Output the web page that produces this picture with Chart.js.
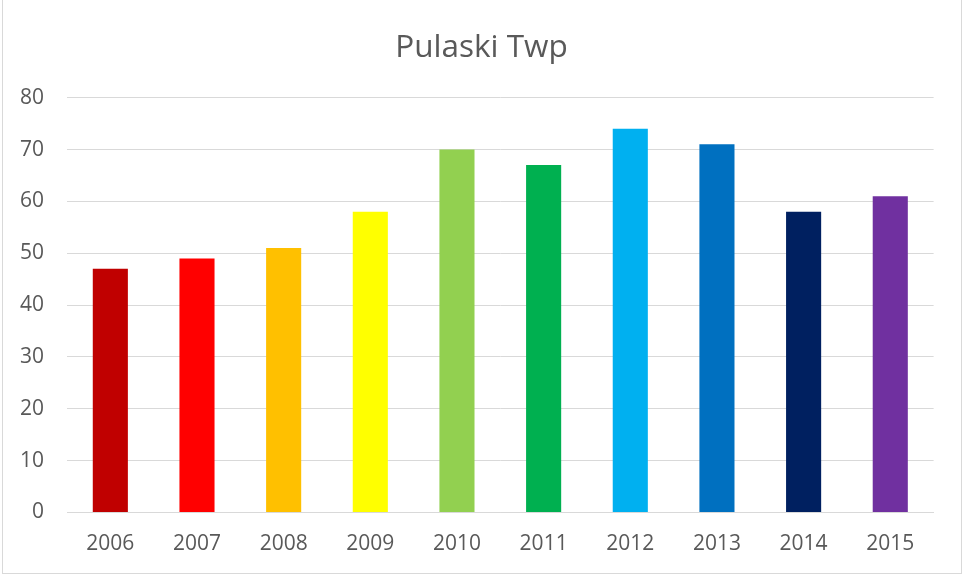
<!DOCTYPE html>
<html>
<head>
<meta charset="utf-8">
<script src="https://cdn.jsdelivr.net/npm/chart.js@4"></script>
<style>
  html, body { margin: 0; padding: 0; background: #fff; }
  #wrap { position: relative; width: 963px; height: 575px; overflow: hidden; }
  #frame { position: absolute; left: 2px; top: -1px; width: 960px; height: 575px; border: 1px solid #d9d9d9; box-sizing: border-box; pointer-events: none; }
  canvas { position: absolute; left: 0; top: 0; }
</style>
</head>
<body>
<div id="wrap">
  <canvas id="c" width="963" height="575"></canvas>
  <div id="frame"></div>
</div>
<script>
const title = "Pulaski Twp";
const categories = ["2006", "2007", "2008", "2009", "2010", "2011", "2012", "2013", "2014", "2015"];
const values = [47, 49, 51, 58, 70, 67, 74, 71, 58, 61];
const barColors = ["#C00000", "#FF0000", "#FFC000", "#FFFF00", "#92D050", "#00B050", "#00B0F0", "#0070C0", "#002060", "#7030A0"];
const yMin = 0, yMax = 80, yStep = 10;

const textColor = "#595959";
const gridColor = "#d9d9d9";
const fontFamily = "'Open Sans', 'Liberation Sans', sans-serif";

new Chart(document.getElementById("c"), {
  type: "bar",
  data: {
    labels: categories,
    datasets: [{
      data: values,
      backgroundColor: barColors,
      borderWidth: 0,
      categoryPercentage: 1.0,
      barPercentage: 0.405
    }]
  },
  options: {
    responsive: false,
    animation: false,
    devicePixelRatio: 1,
    layout: { padding: 0 },
    plugins: {
      legend: { display: false },
      tooltip: { enabled: false },
      title: {
        display: true,
        text: title,
        color: textColor,
        font: { family: fontFamily, size: 31.5, weight: "normal" },
        padding: { top: 29, bottom: 30.9 }
      }
    },
    scales: {
      x: {
        grid: { display: false, drawTicks: false },
        border: { display: true, color: gridColor, width: 1 },
        ticks: {
          color: textColor,
          font: { family: fontFamily, size: 21 },
          padding: 19,
          maxRotation: 0
        },
        afterFit: (s) => { s.height = 62.5; }
      },
      y: {
        min: yMin,
        max: yMax,
        grid: { color: gridColor, lineWidth: 1, drawTicks: false },
        border: { display: false },
        ticks: {
          stepSize: yStep,
          color: textColor,
          font: { family: fontFamily, size: 21 },
          padding: 23
        },
        afterFit: (s) => { s.width = 67; }
      },
      yRight: {
        position: "right",
        min: yMin,
        max: yMax,
        grid: { display: false, drawTicks: false },
        border: { display: false },
        ticks: { display: false },
        afterFit: (s) => { s.width = 29.4; }
      }
    }
  }
});
</script>
</body>
</html>
